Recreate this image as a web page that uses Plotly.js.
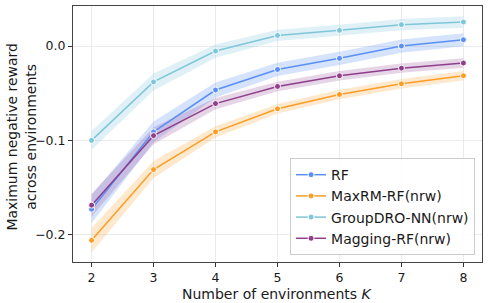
<!DOCTYPE html>
<html><head><meta charset="utf-8">
<script src="https://cdn.plot.ly/plotly-3.0.1.min.js"></script>
<style>html,body{margin:0;padding:0;background:#fff}#c{width:488px;height:303px}</style>
</head><body><div id="c"></div>
<script>
var K = [2, 3, 4, 5, 6, 7, 8];
var names = ["RF", "MaxRM-RF(nrw)", "GroupDRO-NN(nrw)", "Magging-RF(nrw)"];
var rf       = [-0.173, -0.091, -0.0466, -0.0248, -0.013, 0.0, 0.0067];
var maxrm    = [-0.206, -0.131, -0.091, -0.0665, -0.0513, -0.040, -0.0315];
var groupdro = [-0.100, -0.038, -0.0053, 0.0113, 0.0167, 0.0227, 0.0255];
var magging  = [-0.1687, -0.095, -0.061, -0.0428, -0.0315, -0.0234, -0.018];
var rfErr       = [0.015, 0.011, 0.008, 0.007, 0.007, 0.007, 0.007];
var maxrmErr    = [0.013, 0.009, 0.006, 0.005, 0.005, 0.005, 0.005];
var groupdroErr = [0.010, 0.009, 0.007, 0.006, 0.006, 0.006, 0.006];
var magErr      = [0.012, 0.009, 0.006, 0.005, 0.005, 0.005, 0.005];
var xTitle = 'Number of environments <i>K</i>';
var yTitle = 'Maximum negative reward<br>across environments';
var colors = ["#5a8ff5", "#fb9d26", "#7fc6da", "#8e3f8c"];
var fills = ["rgba(90,143,245,0.25)", "rgba(251,157,38,0.22)", "rgba(127,198,218,0.25)", "rgba(142,63,140,0.22)"];
var series = [rf, maxrm, groupdro, magging];
var errs = [rfErr, maxrmErr, groupdroErr, magErr];
var traces = [];
series.forEach(function(s, i){
  var up = s.map(function(v,j){return v + errs[i][j];});
  var lo = s.map(function(v,j){return v - errs[i][j];});
  traces.push({x: K.concat(K.slice().reverse()), y: up.concat(lo.slice().reverse()),
    fill: 'toself', fillcolor: fills[i], line: {width: 0}, mode: 'lines',
    hoverinfo: 'skip', showlegend: false});
});
series.forEach(function(s, i){
  traces.push({x: K, y: s, name: names[i], mode: 'lines+markers',
    line: {color: colors[i], width: 1.5},
    marker: {color: colors[i], size: 6, line: {color: '#fff', width: 1}}});
});
var layout = {
  width: 488, height: 303,
  margin: {l: 73, r: 6, t: 6, b: 41},
  paper_bgcolor: '#fff', plot_bgcolor: '#fff',
  font: {family: 'DejaVu Sans', size: 12.5, color: '#1a1a1a'},
  showlegend: true,
  legend: {x: 0.983, y: 0.027, xanchor: 'right', yanchor: 'bottom',
    bgcolor: 'rgba(255,255,255,0.9)', bordercolor: '#cccccc', borderwidth: 1,
    font: {size: 14}, tracegroupgap: 0, itemwidth: 30},
  xaxis: {range: [1.7, 8.3], tickvals: K, ticks: 'outside', ticklen: 4, tickcolor: '#333',
    showgrid: true, gridcolor: '#ebebeb', zeroline: false,
    showline: true, linecolor: '#444', linewidth: 1, mirror: true},
  yaxis: {range: [-0.229, 0.0425], tickvals: [-0.2, -0.1, 0.0], ticktext: ['\u22120.2', '\u22120.1', '0.0'],
    ticks: 'outside', ticklen: 4, tickcolor: '#333',
    showgrid: true, gridcolor: '#ebebeb', zeroline: false,
    showline: true, linecolor: '#444', linewidth: 1, mirror: true},
  annotations: [
    {text: xTitle, xref: 'paper', yref: 'paper', x: 0.5, y: -0.088, xanchor: 'center', yanchor: 'top',
     showarrow: false, borderpad: 0, font: {size: 14}},
    {text: yTitle, xref: 'paper', yref: 'paper', x: -0.127, y: 0.49, xanchor: 'center', yanchor: 'middle',
     textangle: -90, showarrow: false, font: {size: 14}}
  ]
};
Plotly.newPlot('c', traces, layout, {displayModeBar: false, staticPlot: true});
</script></body></html>
